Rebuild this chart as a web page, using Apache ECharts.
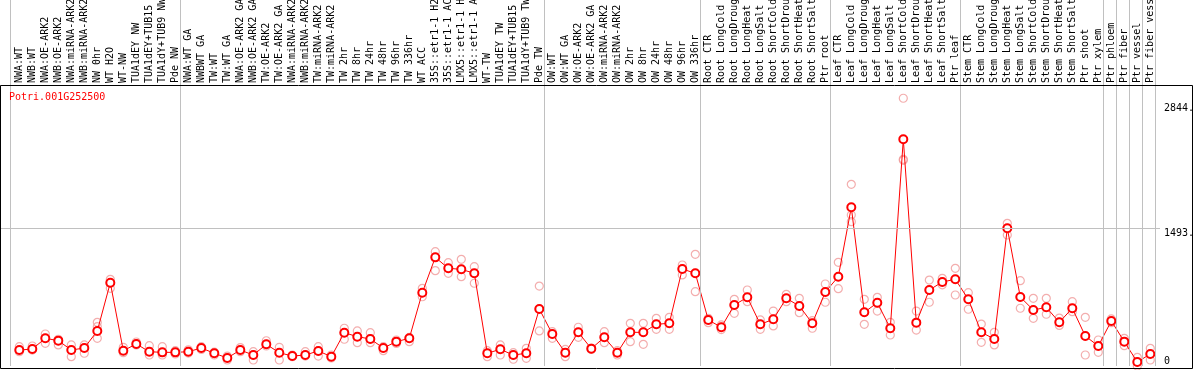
<!DOCTYPE html>
<html>
<head>
<meta charset="utf-8">
<script src="https://cdn.jsdelivr.net/npm/echarts@6/dist/echarts.min.js"></script>
<style>
html, body { margin: 0; padding: 0; background: #fff; }
#expChart { width: 1194px; height: 370px; }
</style>
</head>
<body>
<div id="expChart"></div>
<script>
var geneId = 'Potri.001G252500';

var categories = [
	'NWA:WT', 'NWB:WT', 'NWA:OE-ARK2', 'NWB:OE-ARK2', 'NWA:miRNA-ARK2', 'NWB:miRNA-ARK2',
	'NW 0hr', 'WT H2O', 'WT-NW', 'TUA1dEY NW', 'TUA1dEY+TUB15 NW', 'TUA1dY+TUB9 NW', 'Pde NW',
	'NWA:WT GA', 'NWBWT GA', 'TW:WT', 'TW:WT GA', 'NWA:OE-ARK2 GA', 'NWB:OE-ARK2 GA',
	'TW:OE-ARK2', 'TW:OE-ARK2 GA', 'NWA:miRNA-ARK2', 'NWB:miRNA-ARK2', 'TW:miRNA-ARK2', 'TW:miRNA-ARK2',
	'TW 2hr', 'TW 8hr', 'TW 24hr', 'TW 48hr', 'TW 96hr', 'TW 336hr', 'WT ACC',
	'35S::etr1-1 H2O', '35S::etr1-1 ACC', 'LMX5::etr1-1 H2O', 'LMX5::etr1-1 ACC',
	'WT-TW', 'TUA1dEY TW', 'TUA1dEY+TUB15 TW', 'TUA1dY+TUB9 TW', 'Pde TW',
	'OW:WT', 'OW:WT GA', 'OW:OE-ARK2', 'OW:OE-ARK2 GA', 'OW:miRNA-ARK2', 'OW:miRNA-ARK2',
	'OW 2hr', 'OW 8hr', 'OW 24hr', 'OW 48hr', 'OW 96hr', 'OW 336hr',
	'Root CTR', 'Root LongCold', 'Root LongDrought', 'Root LongHeat', 'Root LongSalt',
	'Root ShortCold', 'Root ShortDrought', 'Root ShortHeat', 'Root ShortSalt', 'Ptr root',
	'Leaf CTR', 'Leaf LongCold', 'Leaf LongDrought', 'Leaf LongHeat', 'Leaf LongSalt',
	'Leaf ShortCold', 'Leaf ShortDrought', 'Leaf ShortHeat', 'Leaf ShortSalt', 'Ptr leaf',
	'Stem CTR', 'Stem LongCold', 'Stem LongDrought', 'Stem LongHeat', 'Stem LongSalt',
	'Stem ShortCold', 'Stem ShortDrought', 'Stem ShortHeat', 'Stem ShortSalt',
	'Ptr shoot', 'Ptr xylem', 'Ptr phloem', 'Ptr fiber', 'Ptr vessel', 'Ptr fiber vessel'
];

// 平均值
var meanValues = [
	173, 184, 300, 275, 173, 195, 380, 903, 166, 239, 155, 148, 148,
	155, 195, 138, 87, 173, 119, 235, 144, 108, 119, 163, 101, 361, 318, 293, 195, 264, 300, 795,
	1178, 1059, 1048, 1005, 138, 181, 119, 138, 618,
	347, 144, 365, 188, 311, 144, 365, 365, 452, 463, 1052, 1005,
	499, 420, 661, 745, 452, 506, 734, 651, 463, 802,
	968, 1721, 582, 686, 409, 2458, 470, 824, 911, 940,
	723, 365, 293, 1493, 748, 607, 636, 474, 626, 325, 217,
	488, 264, 43, 130
];

// 三个重复
var repA = [
	209, 217, 347, 290, 228, 228, 474, 940, 203, 260, 220, 209, 166,
	175, 210, 150, 108, 200, 155, 274, 203, 119, 155, 209, 119, 409, 380, 361, 210, 282, 310, 842,
	1239, 1120, 1157, 1077, 166, 228, 144, 192, 867,
	372, 180, 420, 195, 372, 166, 463, 463, 517, 528, 1095, 1211,
	517, 445, 723, 824, 499, 596, 777, 734, 491, 889,
	1124, 1970, 723, 745, 474, 2903, 596, 932, 950, 1059,
	795, 455, 365, 1547, 925, 734, 734, 520, 697, 528, 282,
	510, 300, 94, 192
];
var repB = [
	173, 184, 300, 275, 173, 195, 300, 842, 166, 239, 155, 148, 148,
	155, 195, 138, 87, 173, 119, 235, 144, 108, 119, 163, 101, 361, 318, 293, 195, 264, 300, 795,
	1178, 1059, 1048, 1005, 138, 181, 119, 138, 618,
	347, 144, 365, 188, 311, 144, 365, 365, 452, 463, 1052, 1005,
	499, 420, 661, 745, 452, 506, 734, 651, 463, 802,
	968, 1637, 582, 686, 409, 2241, 470, 824, 911, 940,
	723, 365, 293, 1493, 748, 607, 636, 474, 626, 325, 217,
	488, 264, 43, 130
];
var repC = [
	155, 173, 246, 228, 101, 138, 426, 897, 144, 228, 119, 119, 130,
	140, 180, 119, 65, 155, 65, 217, 65, 101, 108, 108, 87, 290, 253, 253, 166, 245, 264, 751,
	1034, 1005, 968, 897, 101, 119, 73, 83, 380,
	300, 101, 311, 180, 253, 119, 264, 235, 398, 398, 987, 806,
	470, 395, 571, 697, 398, 434, 697, 578, 409, 691,
	838, 1565, 452, 596, 336, 2230, 390, 691, 880, 770,
	615, 257, 228, 1420, 626, 517, 561, 440, 589, 119, 148,
	470, 220, 0, 65
];

// 每组最后一个样本的序号，分隔线画在它后面
var groupEnds = [12, 40, 52, 62, 72, 83, 84, 85, 86, 87];

var yTickValues = [0, 1493, 2844];
var yTickLabels = ['0', '1493.', '2844.'];

var monoFont = '"DejaVu Sans Mono", "Liberation Mono", monospace';
var expChart = echarts.init(document.getElementById('expChart'));

var meanData = [];
var repData = [];
for (var i = 0; i < categories.length; i++) {
	meanData.push([i, meanValues[i]]);
	repData.push([i, repA[i]], [i, repB[i]], [i, repC[i]]);
}

var sepLines = [{ xAxis: -0.715 }];
for (var j = 0; j < groupEnds.length; j++) {
	sepLines.push({ xAxis: groupEnds[j] + 0.37 });
}

// 右侧刻度，只有中间那条画线
var tickLines = [];
for (var k = 0; k < yTickValues.length; k++) {
	tickLines.push({
		yAxis: yTickValues[k],
		lineStyle: { color: k === 1 ? '#c0c0c0' : 'rgba(0,0,0,0)' },
		label: { formatter: yTickLabels[k], verticalAlign: k === 0 ? 'bottom' : 'top' }
	});
}

var option = {
	animation: false,
	title: {
		text: geneId,
		left: 9,
		top: 92,
		padding: 0,
		textStyle: { color: '#ff0000', fontFamily: monoFont, fontSize: 10, fontWeight: 'normal' }
	},
	grid: [
		{ left: 0, top: 0, width: 1160, bottom: 4, outerBoundsMode: 'none' },
		{ left: 12.8, top: 85, width: 1144, bottom: 4, outerBoundsMode: 'none' }
	],
	xAxis: [
		{ type: 'value', gridIndex: 0, min: -1.485, max: 87.746, show: false },
		{
			type: 'category',
			gridIndex: 1,
			position: 'top',
			data: categories,
			boundaryGap: true,
			axisLine: { show: false },
			axisTick: { show: false },
			splitLine: { show: false },
			axisLabel: {
				interval: 0,
				rotate: 90,
				margin: 2,
				hideOverlap: false,
				fontFamily: monoFont,
				fontSize: 10,
				color: '#000'
			}
		}
	],
	yAxis: [
		{ type: 'value', gridIndex: 0, min: 0, max: 3968, show: false },
		{ type: 'value', gridIndex: 1, min: 0, max: 1, show: false }
	],
	graphic: [{
		type: 'rect',
		silent: true,
		z: 100,
		shape: { x: 0.5, y: 85.5, width: 1192, height: 283 },
		style: { fill: null, stroke: '#000', lineWidth: 1 }
	}],
	series: [
		{
			name: 'replicates',
			type: 'scatter',
			xAxisIndex: 0,
			yAxisIndex: 0,
			data: repData,
			symbol: 'circle',
			symbolSize: 8,
			silent: true,
			z: 2,
			itemStyle: { color: 'rgba(0,0,0,0)', borderColor: '#f09a9a', borderWidth: 1.2 },
			markLine: {
				silent: true,
				symbol: ['none', 'none'],
				label: { show: false },
				lineStyle: { color: '#c0c0c0', width: 1, type: 'solid' },
				data: sepLines
			}
		},
		{
			name: geneId,
			type: 'line',
			xAxisIndex: 0,
			yAxisIndex: 0,
			data: meanData,
			symbol: 'emptyCircle',
			symbolSize: 8,
			showAllSymbol: true,
			silent: true,
			z: 3,
			lineStyle: { color: '#ff0000', width: 1 },
			itemStyle: { color: '#ff0000', borderWidth: 1.3 },
			markLine: {
				silent: true,
				symbol: ['none', 'none'],
				lineStyle: { color: '#c0c0c0', width: 1, type: 'solid' },
				label: {
					show: true,
					position: 'end',
					distance: 4,
					color: '#000',
					fontFamily: monoFont,
					fontSize: 10
				},
				data: tickLines
			}
		}
	]
};
expChart.setOption(option);
</script>
</body>
</html>
